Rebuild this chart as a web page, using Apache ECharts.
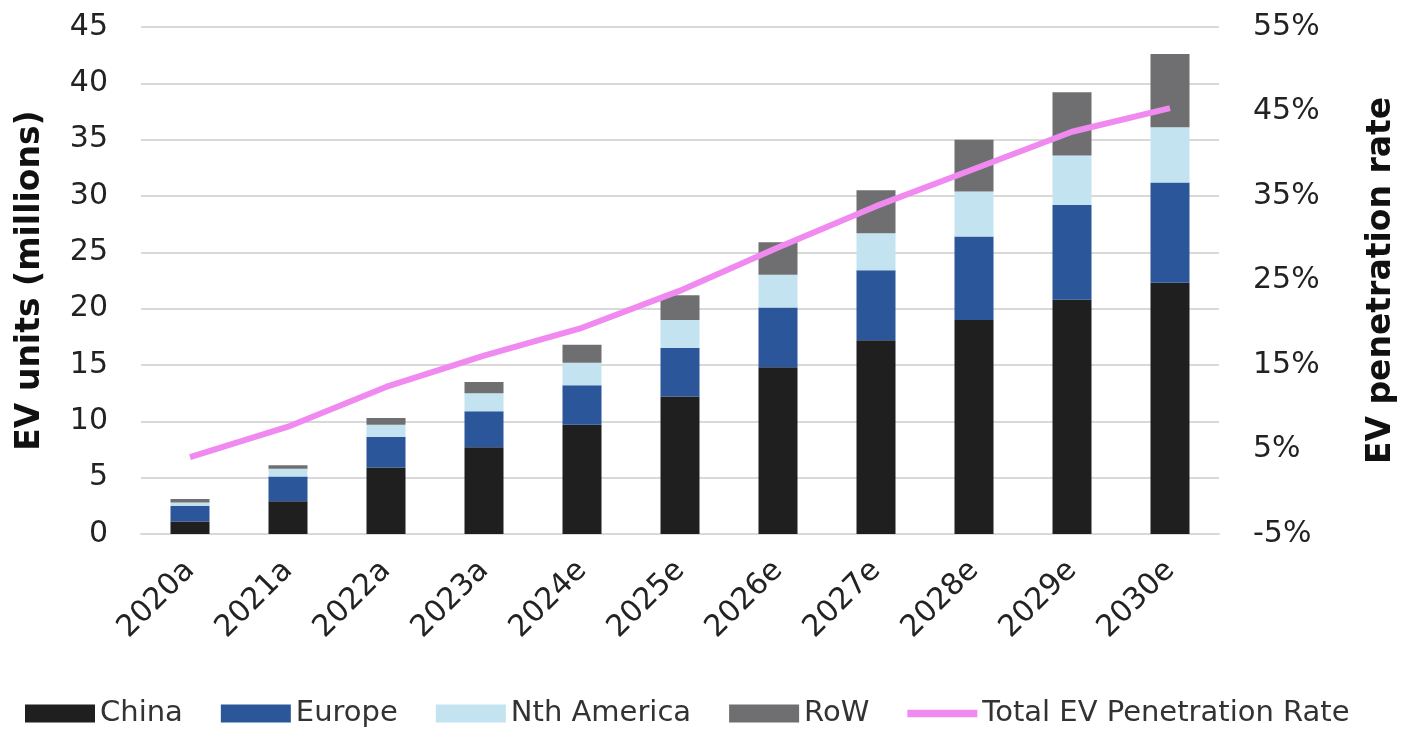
<!DOCTYPE html>
<html>
<head>
<meta charset="utf-8">
<script src="https://cdn.jsdelivr.net/npm/echarts@6/dist/echarts.min.js"></script>
<style>
html,body{margin:0;padding:0;background:#fff;}
#chart{width:1409px;height:729px;}
</style>
</head>
<body>
<div id="chart"></div>
<script>
const categories = ['2020a','2021a','2022a','2023a','2024e','2025e','2026e','2027e','2028e','2029e','2030e'];
const china = [1.1, 2.9, 5.9, 7.7, 9.7, 12.2, 14.8, 17.2, 19.0, 20.8, 22.3];
const europe = [1.4, 2.2, 2.7, 3.2, 3.5, 4.3, 5.3, 6.2, 7.4, 8.4, 8.9];
const nthAmerica = [0.3, 0.7, 1.1, 1.6, 2.0, 2.5, 2.9, 3.3, 4.0, 4.4, 4.9];
const row = [0.3, 0.3, 0.6, 1.0, 1.6, 2.2, 2.9, 3.8, 4.6, 5.6, 6.5];
const penetration = [4.1, 7.7, 12.4, 16.1, 19.4, 23.8, 28.9, 33.8, 38.2, 42.6, 45.4];

const FONT = 'DejaVu Sans';
const chart = echarts.init(document.getElementById('chart'));
const bar = (name, data, color) => ({
  name, type: 'bar', stack: 'ev', data, barWidth: 39,
  itemStyle: { color }, emphasis: { disabled: true }
});
chart.setOption({
  animation: false,
  textStyle: { fontFamily: FONT },
  grid: { left: 141, right: 190, top: 27, bottom: 195, outerBoundsMode: 'none', containLabel: false },
  legend: {
    left: 20, top: 694, itemWidth: 70, itemHeight: 18, itemGap: 38,
    textStyle: { fontSize: 29, color: '#333', fontFamily: FONT },
    data: [
      { name: 'China', icon: 'rect' },
      { name: 'Europe', icon: 'rect' },
      { name: 'Nth America', icon: 'rect' },
      { name: 'RoW', icon: 'rect' },
      { name: 'Total EV Penetration Rate', icon: 'path://M0,0 L76,0 L76,8 L0,8 Z' }
    ]
  },
  xAxis: {
    type: 'category', data: categories,
    axisLine: { lineStyle: { color: '#d9d9d9', width: 2 } },
    axisTick: { show: false },
    axisLabel: { rotate: 45, fontSize: 30, color: '#222', margin: 32, fontFamily: FONT }
  },
  yAxis: [
    {
      type: 'value', min: 0, max: 45, interval: 5,
      name: 'EV units (millions)', nameLocation: 'middle', nameGap: 94, nameRotate: 90,
      nameTextStyle: { fontSize: 33, fontWeight: 'bold', color: '#111', fontFamily: FONT },
      axisLabel: { fontSize: 30, color: '#222', margin: 33, fontFamily: FONT },
      axisLine: { show: false }, axisTick: { show: false },
      splitLine: { lineStyle: { color: '#d9d9d9', width: 2 } }
    },
    {
      type: 'value', min: -5, max: 55, interval: 10, position: 'right',
      name: 'EV penetration rate', nameLocation: 'middle', nameGap: 146, nameRotate: 90,
      nameTextStyle: { fontSize: 33, fontWeight: 'bold', color: '#111', fontFamily: FONT },
      axisLabel: { fontSize: 30, color: '#222', margin: 34, formatter: '{value}%', fontFamily: FONT },
      axisLine: { show: false }, axisTick: { show: false },
      splitLine: { show: false }
    }
  ],
  series: [
    bar('China', china, '#1f1f1f'),
    bar('Europe', europe, '#2b579a'),
    bar('Nth America', nthAmerica, '#c2e3ef'),
    bar('RoW', row, '#6f6f71'),
    {
      name: 'Total EV Penetration Rate', type: 'line', yAxisIndex: 1, data: penetration,
      symbol: 'none', lineStyle: { color: '#f08af0', width: 6 }, itemStyle: { color: '#f08af0' },
      emphasis: { disabled: true }
    }
  ]
});
</script>
</body>
</html>
